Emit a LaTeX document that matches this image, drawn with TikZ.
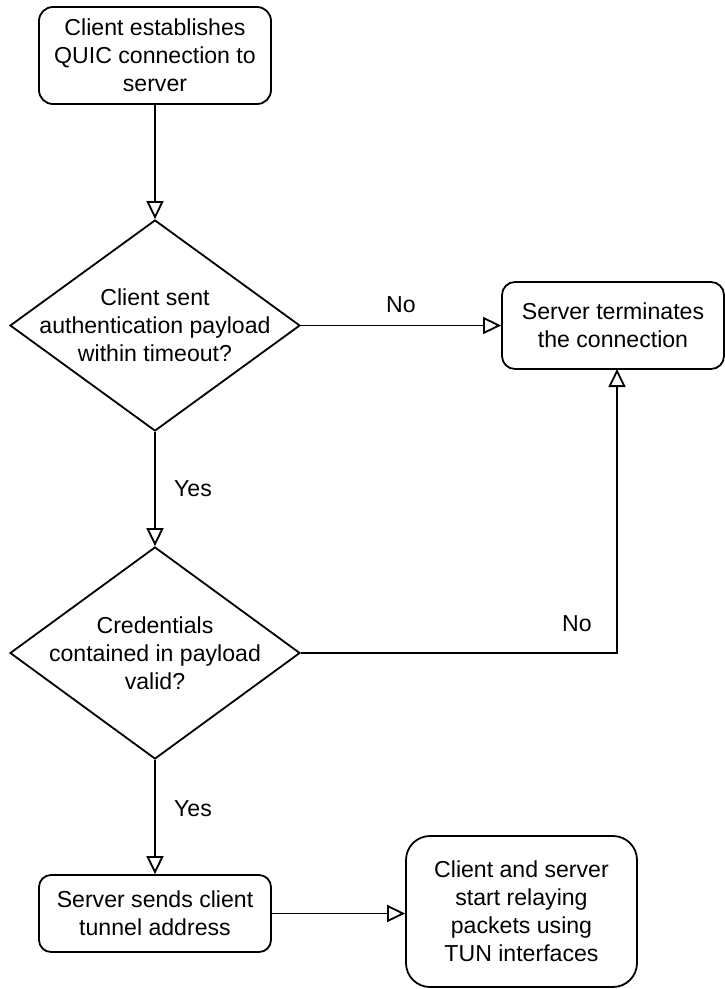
\documentclass[tikz,border=0pt]{standalone}
\usepackage{fontspec}
\setmainfont{Liberation Sans}
\usetikzlibrary{shapes.geometric,arrows.meta}
\begin{document}
\begin{tikzpicture}[x=1pt,y=-1pt,
  every node/.style={font=\fontsize{23.1}{28}\selectfont, align=center, inner sep=0pt},
  box/.style={draw, line width=1.8pt, rectangle, rounded corners=#1},
  box/.default=14pt,
  dia/.style={draw, line width=1.8pt, diamond, minimum width=290pt, minimum height=211pt},
  conn/.style={line width=1.8pt, -{Triangle[open, length=18pt, width=17pt, line width=1.8pt]}},
  lbl/.style={}
]
\useasboundingbox (0,0) rectangle (725,989);
\node[box, minimum width=232pt, minimum height=97pt] (n1) at (155,55.5) {Client establishes\\QUIC connection to\\server};
\node[dia] (d1) at (155,325.5) {};
\node (d1t) at (155,325.5) {Client sent\\authentication payload\\within timeout?};
\node[box=13pt, minimum width=222pt, minimum height=87pt] (t) at (613,325.5) {Server terminates\\the connection};
\node[dia, minimum height=212pt] (d2) at (155,653) {};
\node (d2t) at (155,653) {Credentials\\contained in payload\\valid?};
\node[box=12pt, minimum width=232pt, minimum height=77pt] (b3) at (155,913.5) {Server sends client\\tunnel address};
\node[box=24pt, minimum width=231pt, minimum height=151pt] (b4) at (521.5,911.5) {Client and server\\start relaying\\packets using\\TUN interfaces};
\coordinate (tin) at (617,369);
\draw[conn] (n1) -- (d1.north);
\draw[conn] (d1.east) -- (t.west);
\draw[conn] (d1.south) -- (d2.north);
\draw[conn] (d2.east) -| (tin);
\draw[conn] (d2.south) -- (b3.north);
\draw[conn] (b3.east) -- (b3.east -| b4.west);
\node[lbl] (no1) at (401,305) {No};
\node[lbl] (no2) at (577,624) {No};
\node[lbl] (yes1) at (193,489) {Yes};
\node[lbl] (yes2) at (193,809) {Yes};
\end{tikzpicture}
\end{document}
